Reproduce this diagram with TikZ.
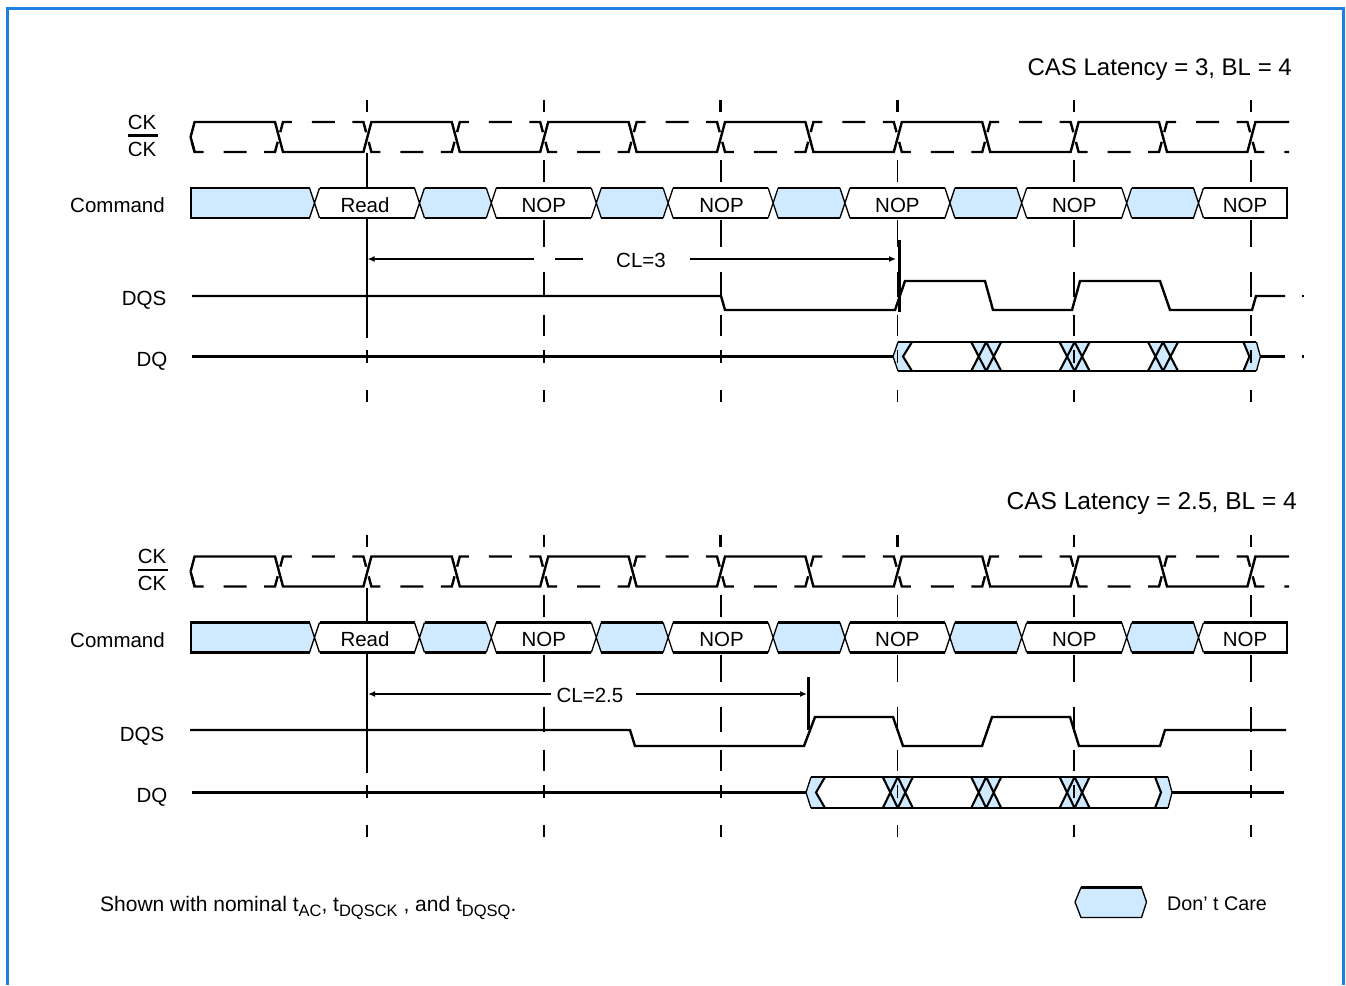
\documentclass[tikz,border=0pt]{standalone}
\usepackage{fontspec}
\setmainfont{Liberation Sans}
\usetikzlibrary{arrows.meta}
\definecolor{dcblue}{RGB}{207,234,255}
\definecolor{framebl}{RGB}{30,128,224}
\newcommand{\lblfont}{\fontsize{20.5pt}{24pt}\selectfont}
\newcommand{\ttlfont}{\fontsize{24pt}{28pt}\selectfont}
\newcommand{\ftfont}{\fontsize{21pt}{24pt}\selectfont}
\newcommand{\lgfont}{\fontsize{19.7pt}{24pt}\selectfont}
\newcommand{\dsub}[1]{\raisebox{-5.5pt}{\fontsize{16.5pt}{18pt}\selectfont #1}}

% ---------- shared rows: CK, Command, vertical edge markers ----------
\newcommand{\commonrows}[1]{%
  % blue (don't care) parts of the command row
  \fill[dcblue] (191,188) -- (309.5,188) -- (314.5,203) -- (309.5,218) -- (191,218) -- cycle;
  \foreach \pa/\pb in {419.5/491.3,596.3/668.1,773.1/844.9,949.9/1021.7,1126.7/1198.5}{%
    \fill[dcblue] (\pa,203) -- ({\pa+5},188) -- ({\pb-5},188) -- (\pb,203) -- ({\pb-5},218) -- ({\pa+5},218) -- cycle;}
  % vertical dashed edge markers
  \foreach \ex in {543.8,720.6,897.4,1074.2,1251}{%
    \draw[line width=2.4pt] (\ex,100) -- (\ex,112);
    \foreach \ya/\yb in {160/182,220/247,272/297,315/336,350/363,390/402}{%
      \draw[vdash] (\ex,\ya) -- (\ex,\yb);}}
  \draw[line width=2.4pt] (367,100) -- (367,112);
  \foreach \ya/\yb in {350/363,390/402}{\draw[vdash] (367,\ya) -- (367,\yb);}
  % read marker (hidden behind the Read window)
  \draw[sig] (367,153) -- (367,338);
  % white command windows
  \foreach \ex in {367,543.8,720.6,897.4,1074.2}{%
    \fill[white] ({\ex-52.5},203) -- ({\ex-47.5},188) -- ({\ex+47.5},188) -- ({\ex+52.5},203) -- ({\ex+47.5},218) -- ({\ex-47.5},218) -- cycle;}
  \fill[white] (1198.5,203) -- (1203.5,188) -- (1287,188) -- (1287,218) -- (1203.5,218) -- cycle;
  % transitions
  \foreach \tq in {314.5,419.5,491.3,596.3,668.1,773.1,844.9,949.9,1021.7,1126.7,1198.5}{%
    \draw[thinl] ({\tq-5},188) -- ({\tq+5},218) ({\tq-5},218) -- ({\tq+5},188);}
  % borders
  \draw[sig] (309.5,188) -- (191,188) -- (191,218) -- (309.5,218);
  \draw[sig] (1203.5,188) -- (1287,188) -- (1287,218) -- (1203.5,218);
  \foreach \pa/\pb in {319.5/414.5,424.5/486.3,496.3/591.3,601.3/663.1,673.1/768.1,778.1/839.9,849.9/944.9,954.9/1016.7,1026.7/1121.7,1131.7/1193.5}{%
    \draw[sig] (\pa,188) -- (\pb,188) (\pa,218) -- (\pb,218);}
  % command texts
  \node[lbl] (#1read) at (365,212) {Read};
  \node[lbl] (#1nopa) at (543.8,212) {NOP};
  \node[lbl] (#1nopb) at (721.5,212) {NOP};
  \node[lbl] (#1nopc) at (897.4,212) {NOP};
  \node[lbl] (#1nopd) at (1074.2,212) {NOP};
  \node[lbl] (#1nope) at (1245,212) {NOP};
  % clocks
  \draw[sig] (190.6,137) -- (194.6,152);
  \draw[sig] (190.6,137) -- (194.6,122)
    \foreach \j [evaluate=\j as \cx using {279+88.4*\j},
                 evaluate=\j as \ya using {122+30*mod(\j,2)},
                 evaluate=\j as \yb using {152-30*mod(\j,2)}] in {0,...,11}
      { -- ({\cx-4},\ya) -- ({\cx+4},\yb) } -- (1289,122);
  \draw[sig, dash pattern=on 19.5pt off 20pt on 23pt off 17.5pt on 21.5pt off 9.95pt, dash phase=106.45pt]
    (190.6,137) -- (194.6,152)
    \foreach \j [evaluate=\j as \cx using {279+88.4*\j},
                 evaluate=\j as \ya using {122+30*mod(\j,2)},
                 evaluate=\j as \yb using {152-30*mod(\j,2)}] in {0,...,11}
      { -- ({\cx-4},\yb) -- ({\cx+4},\ya) } -- (1289,152);
}

% ---------- DQ burst ----------
\newcommand{\burstfill}[7]{%
  \pgfmathsetmacro{\bm}{(#6+#7)/2}%
  \fill[dcblue] ({#1-5},\bm) -- (#1,#6) -- ({#1+14},#6) -- ({#1+5},\bm) -- ({#1+14},#7) -- (#1,#7) -- cycle;
  \foreach \cc in {#2,#3,#4}{%
    \fill[dcblue] ({\cc-15},#6) -- ({\cc+15},#6) -- ({\cc+7.5},\bm) -- ({\cc+15},#7) -- ({\cc-15},#7) -- ({\cc-7.5},\bm) -- cycle;}
  \fill[dcblue] ({#5-8},#6) -- ({#5+5},#6) -- ({#5+9},\bm) -- ({#5+5},#7) -- ({#5-8},#7) -- ({#5-2},\bm) -- cycle;
}
\newcommand{\burstdraw}[7]{%
  \pgfmathsetmacro{\bm}{(#6+#7)/2}%
  \fill[white] ({#1+5},\bm) -- ({#1+14},#6) -- ({#2-15},#6) -- ({#2-7.5},\bm) -- ({#2-15},#7) -- ({#1+14},#7) -- cycle;
  \fill[white] ({#2+7.5},\bm) -- ({#2+15},#6) -- ({#3-15},#6) -- ({#3-7.5},\bm) -- ({#3-15},#7) -- ({#2+15},#7) -- cycle;
  \fill[white] ({#3+7.5},\bm) -- ({#3+15},#6) -- ({#4-15},#6) -- ({#4-7.5},\bm) -- ({#4-15},#7) -- ({#3+15},#7) -- cycle;
  \fill[white] ({#4+7.5},\bm) -- ({#4+15},#6) -- ({#5-8},#6) -- ({#5-2},\bm) -- ({#5-8},#7) -- ({#4+15},#7) -- cycle;
  \draw[sig] (#1,#6) -- ({#5+5},#6);
  \draw[midl] (#1,#7) -- ({#5+5},#7);
  \draw[thinl] (#1,#6) -- ({#1-5},\bm) -- (#1,#7);
  \draw[xl] ({#1+14},#6) -- ({#1+5},\bm) -- ({#1+14},#7);
  \foreach \cc in {#2,#3,#4}{%
    \draw[xl] ({\cc-15},#6) -- (\cc,#7) ({\cc-15},#7) -- (\cc,#6) (\cc,#6) -- ({\cc+15},#7) (\cc,#7) -- ({\cc+15},#6);}
  \draw[xl] ({#5-8},#6) -- ({#5-2},\bm) -- ({#5-8},#7);
  \draw[thinl] ({#5+5},#6) -- ({#5+9},\bm) -- ({#5+5},#7);
}

\begin{document}
\begin{tikzpicture}[x=1pt,y=-1pt,line join=miter,
  sig/.style={line width=2.4pt},
  thinl/.style={line width=1.3pt},
  midl/.style={line width=1.6pt},
  xl/.style={line width=2.1pt},
  vdash/.style={line width=1.8pt},
  arr/.style={line width=2.1pt},
  lbl/.style={font=\lblfont, inner sep=0pt, anchor=base},
  ttl/.style={font=\ttlfont, inner sep=0pt, anchor=base east},
  ft/.style={font=\ftfont, inner sep=0pt, anchor=base west}]
\useasboundingbox (0,0) rectangle (1346,985);
\fill[white] (0,0) rectangle (1346,985);

% frame
\draw[framebl, line width=3pt] (7.5,985) -- (7.5,8) -- (1343.8,8) -- (1343.8,985);

% ================= top diagram =================
\node[ttl] (ttitle) at (1292,75) {CAS Latency = 3, BL = 4};
\node[lbl] (tck) at (142,129) {CK};
\draw[sig] (127.5,135.5) -- (157.5,135.5);
\node[lbl] (tckn) at (142,156) {CK};
\node[lbl, anchor=base east] (tcmd) at (165,212) {Command};
\node[lbl] (tdqs) at (144,305) {DQS};
\node[lbl] (tdq) at (152,366) {DQ};

\burstfill{898}{986.2}{1074.6}{1163}{1251.4}{342}{371}
\commonrows{t}
\burstdraw{898}{986.2}{1074.6}{1163}{1251.4}{342}{371}

\draw[sig] (192,296) -- (721,296) -- (725,310) -- (895,310) -- (905,281) -- (985,281) -- (993,310)
  -- (1072,310) -- (1080,281) -- (1160,281) -- (1170,310) -- (1252,310) -- (1256,296) -- (1285,296);
\draw[sig] (192,356.5) -- (893,356.5);
\draw[sig] (1260.4,356.5) -- (1285,356.5);
\fill (1301.8,294.8) rectangle (1304.2,297.2);
\fill (1301.8,355.3) rectangle (1304.2,357.7);

\draw[sig] (899.5,240) -- (899.5,312);
\coordinate (tclL) at (367.5,259);
\coordinate (tclR) at (896,259);
\node[lbl] (tcl) at (641,267) {CL=3};
\draw[arr, {Latex[length=7pt,width=6pt]}-] (tclL) -- (534,259);
\draw[arr] (555,259) -- (583,259);
\draw[arr, -{Latex[length=7pt,width=6pt]}] (690,259) -- (tclR);

% ================= bottom diagram =================
\node[ttl, font=\fontsize{24.5pt}{28pt}\selectfont] (btitle) at (1297,509) {CAS Latency = 2.5, BL = 4};
\node[lbl] (bck) at (152,563) {CK};
\draw[sig] (137.5,570) -- (167.5,570);
\node[lbl] (bckn) at (152,590) {CK};
\node[lbl, anchor=base east] (bcmd) at (165,647.5) {Command};
\node[lbl] (bdqs) at (142,741) {DQS};
\node[lbl] (bdq) at (152,802) {DQ};

\burstfill{811}{897.8}{986.2}{1074.6}{1163}{777}{808}
\begin{scope}[yshift=-434.5pt]
\commonrows{b}
\end{scope}
\burstdraw{811}{897.8}{986.2}{1074.6}{1163}{777}{808}

\draw[sig] (190,730) -- (630,730) -- (635,746) -- (804,746) -- (815,717) -- (893,717) -- (903,746)
  -- (982,746) -- (992,717) -- (1070,717) -- (1079,746) -- (1160,746) -- (1165,730) -- (1286,730);
\draw[sig] (192,792.5) -- (806,792.5);
\draw[sig] (1172,792.5) -- (1284,792.5);

\draw[sig] (808.5,677) -- (808.5,730);
\coordinate (bclL) at (368,694);
\coordinate (bclR) at (807,694);
\node[lbl] (bcl) at (590,702) {CL=2.5};
\draw[arr, {Latex[length=7pt,width=6pt]}-] (bclL) -- (551,694);
\draw[arr, -{Latex[length=7pt,width=6pt]}] (636,694) -- (bclR);

% ================= footer =================
\node[ft] (note) at (100,911) {Shown with nominal t\dsub{AC}, t\dsub{DQSCK} , and t\dsub{DQSQ}.};
\filldraw[fill=dcblue, thinl] (1075,902) -- (1081,887.5) -- (1141.5,887.5) -- (1146.5,902) -- (1141.5,917.5) -- (1081,917.5) -- cycle;
\draw[sig] (1081,887.5) -- (1141.5,887.5);
\node[ft, font=\lgfont] (dc) at (1167,910) {Don’ t Care};
\end{tikzpicture}
\end{document}
